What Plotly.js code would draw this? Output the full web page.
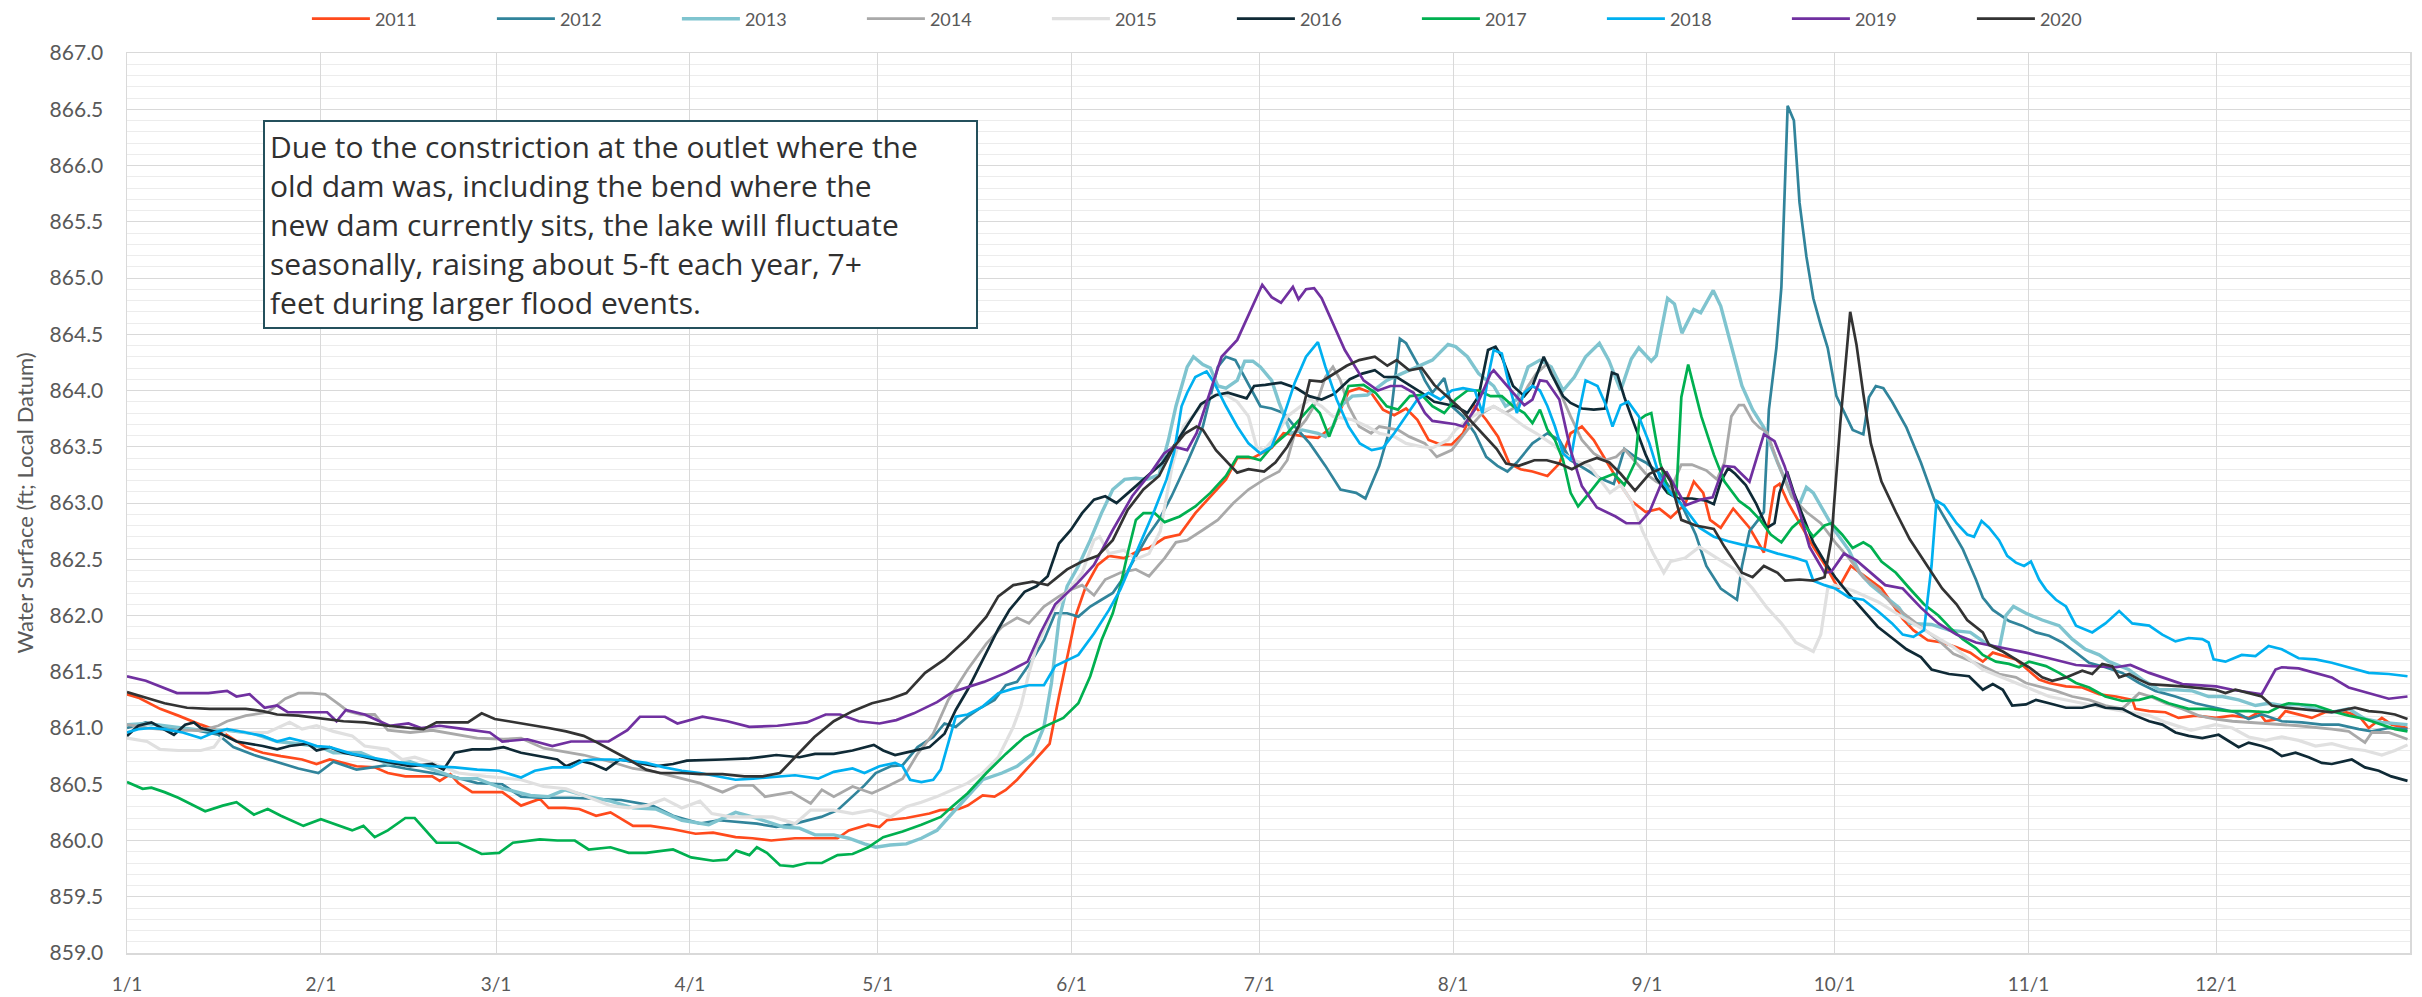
<!DOCTYPE html>
<html>
<head>
<meta charset="utf-8">
<script src="https://cdn.plot.ly/plotly-3.0.1.min.js"></script>
<style>
  html, body { margin: 0; padding: 0; background: #ffffff; }
  #chart { width: 2422px; height: 997px; }
</style>
</head>
<body>
<div id="chart"></div>
<script>
// Month tick positions (day of year) and labels
const monthDays = [0, 31, 59, 90, 120, 151, 181, 212, 243, 273, 304, 334, 365];
const monthLabels = ['1/1', '2/1', '3/1', '4/1', '5/1', '6/1', '7/1', '8/1', '9/1', '10/1', '11/1', '12/1', ''];

const years = ['2011', '2012', '2013', '2014', '2015', '2016', '2017', '2018', '2019', '2020'];

// [day of year, water surface (ft)]
const s2011 = [[0,861.30],[1.8,861.27],[5.3,861.17],[6.8,861.14],[8.2,861.11],[11.8,861.03],[15.3,860.96],[19,860.83],[21.7,860.78],[24.6,860.75],[28,860.72],[30.3,860.68],[32.4,860.72],[36.7,860.66],[39.6,860.65],[41.7,860.60],[44.5,860.57],[48.8,860.57],[50,860.53],[51.7,860.59],[53,860.51],[55.2,860.43],[58,860.43],[60,860.43],[63,860.31],[66,860.37],[67.4,860.29],[70,860.29],[72.3,860.28],[75,860.22],[77.3,860.25],[80.9,860.13],[83.7,860.13],[87.3,860.10],[90.9,860.06],[93.7,860.07],[97.3,860.03],[100,860.02],[103,860.0],[106.8,860.02],[109.9,860.02],[113.6,860.02],[115.4,860.09],[118.5,860.14],[120.3,860.12],[121.5,860.18],[124.6,860.20],[128.3,860.24],[130,860.27],[133,860.28],[134.4,860.31],[136.8,860.40],[138.7,860.39],[140.5,860.45],[142.3,860.54],[144.2,860.66],[146,860.77],[147.5,860.86],[149,861.28],[150.3,861.63],[151.8,862.02],[153.3,862.26],[155.2,862.45],[157,862.53],[159.4,862.51],[161.9,862.58],[163.4,862.60],[165.9,862.69],[168.3,862.72],[170.8,862.91],[173.8,863.09],[175.7,863.21],[177.5,863.40],[180,863.40],[183,863.49],[184.9,863.62],[188.5,863.59],[190.4,863.58],[192.8,863.68],[195.3,863.99],[197,864.02],[198.9,863.98],[200.8,863.83],[202.6,863.78],[204.5,863.84],[206.3,863.74],[208.1,863.56],[210,863.52],[211.8,863.52],[213.6,863.62],[215.5,863.86],[217.3,863.74],[219.2,863.59],[221,863.35],[222.8,863.30],[224.7,863.28],[227.1,863.24],[229,863.35],[230.8,863.62],[232.6,863.68],[234.5,863.56],[236.9,863.33],[238.8,863.16],[240.5,863.02],[242.8,862.92],[245,862.95],[246.8,862.87],[249.1,862.99],[250.5,863.19],[252,863.09],[253.1,862.85],[254.8,862.78],[256.8,862.95],[259.4,862.78],[261.7,862.56],[263.4,863.14],[264.2,863.17],[265.6,863.0],[267.4,862.82],[269.6,862.61],[271.9,862.41],[273.6,862.24],[275.6,862.44],[277,862.38],[278.8,862.31],[280.5,862.24],[282.2,862.10],[283.9,861.97],[285.6,861.87],[287.9,861.78],[290.2,861.76],[292.4,861.72],[294.7,861.67],[296.7,861.59],[298.3,861.67],[302,861.61],[305.7,861.43],[307.3,861.40],[310,861.37],[312.6,861.36],[315.3,861.30],[318,861.28],[320.6,861.25],[321.1,861.17],[323.3,861.15],[325.9,861.14],[328,861.09],[330.7,861.11],[333.9,861.09],[336.6,861.11],[339.2,861.09],[340.8,861.14],[341.9,861.06],[344,861.08],[345.1,861.15],[347.2,861.12],[349.3,861.09],[351.4,861.14],[354.1,861.15],[356.8,861.11],[358.4,861.0],[360.5,861.09],[362.1,861.03],[364.6,861.0]];

const s2012 = [[0,861.0],[3,861.05],[6,861.01],[11,860.98],[14.6,860.94],[17,860.83],[20.3,860.76],[24,860.70],[27.4,860.64],[30.6,860.60],[33,860.70],[36.7,860.63],[41.7,860.67],[44.5,860.64],[48.8,860.60],[52,860.57],[56,860.51],[60,860.50],[63,860.39],[66,860.38],[71,860.38],[79,860.36],[84,860.31],[87.3,860.22],[91.6,860.15],[94.6,860.18],[100.7,860.15],[103.8,860.12],[106.8,860.15],[111,860.21],[113.6,860.27],[116,860.39],[117.9,860.49],[119.7,860.60],[122.1,860.66],[124,860.67],[126.4,860.83],[128.9,860.92],[130.7,861.04],[132.5,861.01],[134.4,861.10],[136.2,861.17],[138.7,861.25],[140.5,861.38],[142.3,861.41],[144.8,861.61],[146.6,861.78],[148.4,862.02],[150.3,862.02],[152.1,861.99],[154,862.08],[155.8,862.14],[157.6,862.20],[159.5,862.35],[161.3,862.53],[163.1,862.70],[165,862.85],[167,863.06],[169.5,863.36],[172,863.68],[174.4,864.21],[175.7,864.30],[177.2,864.27],[178.7,864.12],[180,863.98],[181.2,863.86],[183,863.84],[184.9,863.80],[186.7,863.68],[189.1,863.53],[191.6,863.33],[194,863.12],[196.5,863.09],[198,863.04],[200.2,863.33],[201.7,863.62],[202.6,864.04],[203.5,864.46],[204.5,864.42],[206.3,864.24],[207.5,864.09],[208.7,863.98],[210.6,864.11],[211.8,863.86],[213.6,863.77],[215.5,863.62],[217.3,863.41],[219.1,863.33],[220.7,863.28],[222.2,863.36],[224.7,863.53],[227.1,863.62],[229,863.56],[230.8,863.38],[233.2,863.30],[235.5,863.22],[237.7,863.17],[239.4,863.48],[241.1,863.41],[242.8,863.36],[245.1,863.26],[248.5,862.99],[250.8,862.72],[252.5,862.44],[254.8,862.24],[257.4,862.14],[258.2,862.44],[259.4,862.75],[260.8,862.85],[261.7,862.92],[262.5,863.83],[263.7,864.38],[264.5,864.92],[265.1,865.94],[265.5,866.53],[266.5,866.40],[267.4,865.67],[268.5,865.19],[269.6,864.82],[270.8,864.58],[271.9,864.38],[273.3,863.95],[274.8,863.77],[275.9,863.65],[277.6,863.61],[278.5,863.94],[279.6,864.04],[280.8,864.02],[282.2,863.90],[284.5,863.67],[286.8,863.36],[289,863.02],[291.3,862.80],[293.5,862.59],[295.6,862.32],[296.7,862.16],[298.3,862.05],[300.9,861.95],[303,861.91],[305.2,861.85],[307.3,861.82],[309.4,861.76],[311.6,861.67],[313.7,861.58],[316.3,861.54],[319,861.49],[321.7,861.40],[324.3,861.33],[327.5,861.28],[330.7,861.22],[333.9,861.18],[337.1,861.14],[339.2,861.08],[341.3,861.12],[344.5,861.06],[347.7,861.05],[350.9,861.03],[353.6,861.03],[356.8,860.99],[358.9,860.97],[361.6,861.0],[364.6,860.99]];

const s2013 = [[0,861.03],[3.2,861.04],[7.5,861.01],[11.8,860.98],[16,860.98],[20.3,860.95],[24,860.88],[27.4,860.86],[31,860.83],[33,860.78],[37.4,860.78],[41.7,860.68],[45.3,860.70],[48.8,860.63],[53,860.55],[56,860.55],[60.2,860.46],[64.5,860.40],[67.4,860.39],[70,860.45],[73.8,860.39],[77.3,860.35],[80.9,860.29],[84.5,860.28],[88.7,860.18],[93,860.14],[97.3,860.25],[100,860.21],[105,860.12],[107.5,860.11],[110,860.05],[113,860.05],[115.4,860.02],[117.9,859.97],[119.7,859.94],[122,859.96],[124.6,859.97],[127,860.02],[129.5,860.09],[131.9,860.24],[134.4,860.39],[136.8,860.54],[139.9,860.60],[142.3,860.66],[144.8,860.77],[146.6,861.01],[147.8,861.40],[149,861.96],[150.3,862.26],[152.1,862.44],[154,862.67],[155.8,862.91],[157.6,863.12],[159.5,863.21],[161.3,863.22],[163.1,863.21],[165,863.25],[166.5,863.56],[167.7,863.86],[169.5,864.21],[170.5,864.30],[172,864.23],[173.2,864.20],[174.4,864.04],[175.7,864.02],[177.5,864.09],[178.7,864.26],[180,864.26],[181.2,864.21],[183,864.09],[184.2,863.89],[186.1,863.62],[187.9,863.65],[190.4,863.62],[191.6,863.59],[192.8,863.68],[194,863.86],[195.9,863.95],[198.3,863.96],[201.4,864.09],[203.8,864.15],[206.3,864.21],[208.7,864.27],[211.2,864.41],[212.4,864.39],[214.3,864.30],[216.1,864.15],[218.5,864.04],[220.4,863.86],[222.2,863.92],[224,864.21],[225.9,864.27],[227.7,864.21],[229.6,864.0],[231.4,864.12],[233.2,864.30],[235.4,864.42],[236.9,864.27],[238.8,864.0],[240.5,864.28],[241.7,864.38],[243.7,864.26],[244.5,864.31],[246.3,864.82],[247.4,864.77],[248.6,864.51],[250.5,864.72],[251.6,864.69],[253.6,864.89],[254.8,864.75],[256.5,864.38],[258.2,864.04],[259.9,863.83],[261.7,863.67],[263.9,863.36],[266.2,863.06],[267.4,862.99],[268.5,863.14],[269.6,863.09],[271.4,862.92],[273.1,862.75],[275.3,862.58],[277,862.38],[278.8,862.27],[281,862.17],[283.3,862.07],[285,861.93],[288.5,861.92],[291.3,861.87],[294.7,861.85],[297,861.76],[299.3,861.70],[300.4,862.0],[301.6,862.08],[303.6,862.02],[306.2,861.96],[308.9,861.91],[311,861.79],[313.1,861.70],[315.3,861.65],[316.9,861.59],[320,861.52],[322.2,861.43],[324.9,861.34],[327.5,861.34],[330.2,861.33],[332.8,861.28],[335,861.28],[337.6,861.25],[340.3,861.20],[342.4,861.22],[344.5,861.20],[347.2,861.21],[349.9,861.17],[352.5,861.14],[355.2,861.17],[357.8,861.08],[360.5,861.05],[364.6,861.03]];

const s2014 = [[0,861.03],[3.2,861.0],[7.5,860.98],[11.8,860.98],[14.6,861.02],[16,861.06],[19,861.11],[22.5,861.14],[25.3,861.26],[27.4,861.31],[29.6,861.31],[31.7,861.30],[33.9,861.21],[35.3,861.15],[37.4,861.12],[39.6,861.12],[41.7,860.98],[45.3,860.96],[48.8,860.98],[56,860.91],[60.2,860.90],[63,860.91],[66.6,860.82],[70.2,860.79],[73,860.76],[77.3,860.70],[80.9,860.64],[84.5,860.61],[88.7,860.55],[91.6,860.51],[95.2,860.43],[97.7,860.49],[100.1,860.49],[102,860.39],[106.2,860.43],[109.3,860.33],[111.1,860.45],[113,860.39],[116,860.48],[119.1,860.42],[121.5,860.48],[124,860.55],[126.4,860.77],[128.9,860.95],[131.3,861.25],[134.4,861.52],[137.4,861.75],[139.9,861.90],[142.3,861.98],[144.2,861.93],[146.6,862.08],[149,862.17],[150.9,862.23],[152.7,862.27],[154.6,862.18],[156.4,862.32],[158.8,862.38],[161.3,862.41],[163.4,862.35],[165.9,862.51],[167.7,862.65],[169.5,862.67],[172,862.76],[174.4,862.85],[176.9,863.0],[179.3,863.12],[181.8,863.21],[184.2,863.28],[185.5,863.38],[186.7,863.62],[188.5,863.74],[190.4,863.92],[191.6,864.12],[192.8,864.21],[194,864.09],[195.3,863.86],[197,863.68],[198.9,863.62],[200.2,863.68],[203.2,863.65],[205,863.59],[207.5,863.53],[209.4,863.41],[211.8,863.47],[214.3,863.65],[216.7,863.80],[218.5,863.86],[220.4,863.80],[222.2,863.86],[224,864.04],[225.3,864.15],[227.1,864.24],[229,864.0],[230.8,863.77],[232.6,863.56],[234.5,863.44],[236.3,863.38],[238.1,863.41],[239.4,863.48],[242.8,863.26],[244.5,863.19],[246.8,863.12],[248.5,863.34],[250.2,863.34],[252.5,863.29],[254.2,863.21],[255.4,863.36],[256.5,863.77],[257.7,863.87],[258.5,863.87],[259.9,863.73],[261,863.67],[262.2,863.63],[263.9,863.36],[266.2,863.05],[268.5,862.92],[270.8,862.82],[273.1,862.65],[275.3,862.51],[277.6,862.34],[279.9,862.24],[282.2,862.10],[284.5,862.0],[286.8,861.90],[289.6,861.78],[292,861.66],[296.7,861.55],[299.3,861.48],[302,861.45],[303.6,861.40],[305.7,861.37],[308.4,861.33],[311,861.28],[313.7,861.25],[316.3,861.20],[319,861.17],[321.7,861.31],[323.5,861.28],[325.9,861.22],[328.6,861.17],[331.2,861.11],[333.9,861.08],[336.6,861.06],[339.2,861.05],[344.5,861.03],[347.2,861.02],[352.5,860.99],[355.2,860.97],[357.8,860.87],[358.9,860.96],[361.6,860.96],[364.6,860.90]];

const s2015 = [[0,860.91],[3.2,860.88],[5.3,860.81],[8.2,860.80],[11.8,860.80],[13.9,860.83],[16,860.99],[19,860.96],[22.5,860.96],[26,861.05],[28,860.99],[30.3,861.02],[33,860.97],[36,860.93],[38,860.84],[41.7,860.81],[44,860.72],[46,860.74],[48.8,860.69],[53,860.60],[57.4,860.57],[63,860.54],[66.6,860.48],[70.2,860.46],[74.5,860.37],[77.3,860.31],[80.2,860.29],[83,860.31],[85.9,860.37],[88.7,860.29],[91.6,860.35],[93.5,860.24],[96.5,860.21],[103.2,860.21],[106.8,860.15],[109.3,860.27],[113,860.27],[116,860.24],[119,860.27],[122.1,860.21],[124.6,860.30],[127,860.34],[129.5,860.39],[131.9,860.45],[134.4,860.51],[136.8,860.60],[139.3,860.74],[141.7,861.01],[142.9,861.19],[144.2,861.49],[145.4,861.72],[147.8,862.02],[150.3,862.20],[152.7,862.38],[154.6,862.67],[155.5,862.70],[157,862.55],[159.4,862.58],[161.3,862.50],[163.4,862.55],[165.2,862.75],[167.1,863.33],[168.9,863.68],[170.8,863.80],[173.2,863.95],[175.7,863.96],[177.5,863.90],[179.3,863.77],[180.6,863.50],[181.8,863.47],[183.6,863.59],[185.5,863.77],[189.1,863.92],[191,863.86],[192.8,863.77],[195.9,863.74],[198.3,863.68],[200.2,863.62],[202.6,863.59],[204.5,863.53],[207,863.50],[208.7,863.49],[211.2,863.56],[212.4,863.65],[214.3,863.74],[216.1,863.80],[218.5,863.86],[221,863.78],[223.4,863.68],[225.3,863.62],[227.7,863.53],[229.6,863.44],[231.4,863.38],[233.8,863.33],[235.4,863.21],[237.1,863.09],[238.8,863.16],[240.5,863.02],[242.3,862.75],[244,862.55],[245.7,862.38],[246.8,862.48],[249.1,862.51],[251.4,862.61],[254.2,862.51],[257.1,862.41],[259.9,862.24],[262.2,862.07],[264.5,861.93],[266.8,861.76],[269.6,861.68],[270.8,861.83],[271.9,862.24],[273,862.27],[276,862.22],[280,862.12],[284,861.98],[288,861.85],[292,861.72],[296.7,861.52],[302,861.40],[307.3,861.28],[312.6,861.22],[318,861.16],[323.3,861.11],[326,861.05],[330,860.98],[333.9,861.03],[336.6,861.0],[339.2,860.92],[341.9,860.89],[344.5,860.92],[347.2,860.89],[349.9,860.84],[352.5,860.86],[355.2,860.82],[357.8,860.80],[360.5,860.76],[362.6,860.80],[364.6,860.85]];

const s2016 = [[0,860.93],[1.8,861.02],[3.9,861.05],[6,860.99],[7.5,860.94],[9.3,861.03],[10.7,861.05],[11.8,861.0],[14.6,860.96],[17.5,860.88],[19.6,860.86],[21.7,860.84],[24,860.81],[26,860.84],[28.9,860.86],[30.3,860.80],[32.4,860.83],[34.6,860.78],[37.4,860.75],[39.6,860.72],[42.4,860.69],[45.3,860.66],[48.8,860.68],[50.6,860.63],[52.4,860.78],[55.2,860.81],[58,860.81],[60.2,860.83],[63,860.78],[66.6,860.74],[68.8,860.72],[70.2,860.66],[72.3,860.71],[74.5,860.68],[76.6,860.63],[78.8,860.72],[84.5,860.66],[87.3,860.68],[89.5,860.71],[95.2,860.72],[99.5,860.73],[103.8,860.76],[107.5,860.74],[110,860.77],[113,860.77],[116,860.80],[117.9,860.83],[119.4,860.85],[120.9,860.80],[122.8,860.76],[125.2,860.79],[128.3,860.83],[130.7,860.95],[132.5,861.16],[134.4,861.34],[136.8,861.61],[139.3,861.88],[141.1,862.05],[143.5,862.21],[145.4,862.26],[147.2,862.35],[149,862.64],[150.9,862.76],[152.7,862.91],[154.6,863.03],[156.4,863.06],[158.2,863.0],[161.3,863.15],[163.7,863.27],[165.6,863.36],[168,863.56],[169.8,863.71],[171.7,863.88],[174.1,863.96],[176,863.98],[179,863.93],[180.2,864.04],[182,864.05],[184.5,864.07],[187,864.02],[189,863.95],[191,863.92],[193,863.97],[195.5,864.10],[197.5,864.15],[199.5,864.18],[201,864.12],[203,864.12],[205,864.05],[207,863.98],[209,863.90],[211,863.88],[212.4,863.86],[214.3,863.80],[216.1,863.95],[217.6,864.36],[218.8,864.39],[219.8,864.30],[221.6,864.04],[223.4,863.95],[224.7,864.04],[226.5,864.30],[227.7,864.15],[229.6,863.95],[230.8,863.89],[232.6,863.84],[234.5,863.83],[236.3,863.84],[237.4,864.16],[238.3,864.14],[239.4,863.94],[240.5,863.77],[241.7,863.60],[242.8,863.43],[244.5,863.22],[246.3,863.09],[248,863.04],[250.2,863.04],[252.5,863.02],[253.7,862.99],[254.8,863.19],[256,863.31],[257.1,863.26],[258.8,863.16],[260.5,862.99],[262.2,862.78],[263.4,862.82],[264.2,863.09],[265.4,863.28],[266.5,863.09],[267.9,862.89],[269.6,862.65],[271.4,862.48],[273.1,862.34],[275.3,862.19],[277.6,862.04],[279.9,861.90],[282.2,861.80],[284.5,861.70],[286.8,861.63],[288.5,861.52],[291.3,861.48],[294.5,861.46],[296.7,861.34],[298.3,861.39],[299.9,861.34],[301.4,861.20],[303.6,861.21],[305.2,861.25],[307.3,861.22],[310,861.18],[312.6,861.18],[314.7,861.21],[316.3,861.18],[319,861.17],[321.1,861.11],[323.3,861.06],[325.4,861.03],[327.5,860.96],[329.6,860.93],[331.8,860.91],[334.4,860.94],[335.5,860.90],[337.6,860.83],[339.2,860.87],[341.3,860.84],[342.9,860.81],[344.5,860.75],[346.7,860.78],[348.8,860.74],[350.9,860.69],[352.5,860.68],[355.7,860.72],[357.8,860.65],[360,860.62],[362,860.57],[364.6,860.53]];

const s2017 = [[0,860.52],[2.5,860.46],[3.9,860.47],[6,860.43],[8.2,860.38],[10.3,860.32],[12.5,860.26],[15.3,860.31],[17.5,860.34],[20.3,860.23],[22.5,860.28],[24.6,860.22],[28.2,860.13],[31,860.19],[33.9,860.13],[36,860.09],[37.8,860.13],[39.6,860.03],[41.7,860.09],[44.5,860.20],[46,860.20],[49.5,859.98],[53,859.98],[56.7,859.88],[59.5,859.89],[61.7,859.98],[66,860.01],[68.8,860.0],[71.6,860.0],[73.8,859.92],[77.3,859.94],[80.2,859.89],[83,859.89],[87.3,859.92],[90.2,859.85],[93.7,859.82],[95.9,859.83],[97.4,859.91],[99.5,859.87],[100.7,859.94],[102.3,859.89],[104.4,859.78],[106.5,859.77],[108.7,859.80],[111.1,859.80],[113.6,859.87],[116,859.88],[118.5,859.94],[120.9,860.03],[124,860.08],[127,860.14],[130.1,860.21],[131.9,860.30],[134.4,860.42],[137.4,860.60],[140.5,860.77],[143.5,860.92],[146.6,861.01],[149.7,861.09],[152.1,861.22],[154,861.46],[155.8,861.78],[157.6,862.02],[158.8,862.26],[160.1,862.58],[161.3,862.85],[162.5,862.91],[164.3,862.91],[165.9,862.83],[168.3,862.88],[170.8,862.97],[173.2,863.09],[175.7,863.24],[177.5,863.41],[179.3,863.41],[181.2,863.38],[183,863.50],[185.5,863.62],[187.9,863.77],[189.5,863.87],[190.7,863.80],[192.2,863.59],[193.4,863.77],[195.3,864.04],[197.7,864.05],[199.6,863.98],[201.4,863.86],[203.2,863.83],[205.1,863.95],[207,863.96],[208.7,863.86],[210.6,863.80],[212.4,863.92],[214.3,864.0],[216.1,864.0],[218,863.95],[219.8,863.95],[221.6,863.86],[223.4,863.80],[224.7,863.71],[225.9,863.83],[227.1,863.65],[228.3,863.56],[229.6,863.38],[230.8,863.09],[232,862.97],[233.8,863.09],[235.5,863.21],[237.7,863.26],[239.4,863.16],[241.1,863.36],[241.8,863.74],[242.8,863.78],[243.7,863.80],[245.1,863.36],[246.5,863.09],[247.7,863.07],[248.5,863.94],[249.6,864.23],[250.5,864.04],[251.7,863.77],[253.7,863.43],[255.4,863.19],[257.7,863.02],[259.4,862.95],[261.1,862.85],[262.8,862.72],[264.5,862.65],[266.2,862.78],[267.6,862.85],[269.6,862.70],[271.4,862.80],[272.5,862.82],[274.2,862.72],[275.9,862.60],[277.6,862.65],[278.8,862.61],[280.5,862.48],[282.8,862.38],[285,862.24],[287.3,862.10],[289.6,862.0],[291.5,861.89],[293.5,861.79],[295.6,861.71],[296.7,861.65],[298.8,861.59],[300.9,861.57],[302.5,861.54],[304.1,861.59],[306.8,861.55],[308.9,861.49],[311.6,861.40],[313.7,861.36],[316.3,861.28],[319,861.24],[321.7,861.25],[323.8,861.28],[326.4,861.22],[329.6,861.17],[332.8,861.17],[336,861.15],[339.2,861.15],[342.4,861.14],[344.5,861.20],[345.6,861.22],[347.7,861.21],[349.9,861.20],[352.5,861.15],[355.2,861.11],[357.8,861.08],[360.5,861.03],[362.6,860.99],[364.6,860.97]];

const s2018 = [[0,860.96],[1.8,860.99],[3.9,861.0],[6,860.99],[8.9,860.96],[11.8,860.91],[13.9,860.96],[16,860.99],[19,860.96],[21.7,860.93],[24,860.88],[26,860.91],[28.2,860.88],[30.3,860.84],[32.4,860.83],[36,860.77],[38.8,860.74],[41.7,860.71],[45.3,860.68],[48.8,860.66],[52.4,860.65],[56,860.63],[59.5,860.62],[63,860.56],[65.2,860.62],[68,860.65],[70.9,860.65],[73,860.71],[74.5,860.72],[77.3,860.72],[80.2,860.71],[83,860.69],[85.9,860.65],[88.7,860.62],[91.6,860.60],[94.4,860.57],[97.3,860.54],[100.1,860.55],[103.8,860.57],[106.8,860.58],[110.5,860.55],[113,860.61],[116,860.64],[117.9,860.60],[120.3,860.66],[122.8,860.69],[124,860.66],[125.2,860.54],[127,860.52],[128.9,860.54],[130.1,860.63],[131.3,860.86],[132.5,861.10],[134.4,861.12],[136.8,861.19],[139.3,861.31],[141.7,861.35],[144.2,861.38],[146.6,861.38],[148.4,861.55],[152.1,861.65],[154.6,861.84],[157,862.05],[158.8,862.23],[160.7,862.47],[162.5,862.70],[164.3,862.94],[166.2,863.21],[167.4,863.45],[168.6,863.86],[169.5,863.98],[170.8,864.12],[172.6,864.17],[173.8,864.07],[175.7,863.86],[177.5,863.68],[179.3,863.53],[181.2,863.44],[183,863.50],[184.9,863.77],[186.7,864.07],[188.5,864.30],[190.4,864.43],[191.6,864.21],[193.4,863.92],[195.3,863.68],[197.1,863.53],[199,863.47],[200.8,863.49],[202.6,863.62],[204.5,863.77],[206.3,863.92],[208.1,863.98],[210,863.92],[211.8,864.0],[213.6,864.02],[215.5,864.0],[216.7,863.80],[217.6,864.12],[218.5,864.36],[219.8,864.33],[221,864.04],[222.2,863.80],[223.4,863.98],[224.7,864.04],[225.9,864.0],[227.1,863.86],[228.3,863.68],[229.6,863.44],[230.8,863.38],[232,863.77],[233.2,864.09],[235.1,864.04],[236.3,863.89],[237.5,863.68],[238.8,863.87],[240,863.90],[241.7,863.77],[243.4,863.53],[245.1,863.22],[246.8,863.09],[249.1,862.95],[251.4,862.78],[253.7,862.70],[256,862.66],[258.2,862.63],[261.1,862.60],[263.9,862.55],[266.8,862.51],[268.5,862.48],[269.6,862.31],[271.4,862.27],[273.1,862.24],[275.3,862.16],[277.6,862.14],[279.9,862.04],[282.2,861.93],[283.9,861.83],[285.6,861.81],[287.3,861.87],[288.5,862.44],[289.3,863.02],[290.5,862.98],[292.5,862.82],[294.2,862.72],[295.3,862.70],[296.5,862.84],[297.7,862.78],[299.3,862.67],[300.6,862.53],[302,862.47],[303.3,862.44],[304.4,862.48],[305.7,862.32],[306.8,862.23],[308.4,862.14],[310,862.08],[311.6,861.91],[314.2,861.85],[316.3,861.93],[318.5,862.04],[320.6,861.93],[323.3,861.91],[325.4,861.83],[327.5,861.77],[329.6,861.80],[331.8,861.79],[332.8,861.76],[333.6,861.61],[335.5,861.59],[338.1,861.65],[340.3,861.64],[342.4,861.73],[344.5,861.70],[347.2,861.62],[349.9,861.61],[352.5,861.58],[355.2,861.54],[358.4,861.49],[361.6,861.48],[364.6,861.46]];

const s2019 = [[0,861.46],[3,861.42],[8,861.31],[13,861.31],[16,861.33],[17.5,861.28],[19.6,861.30],[22,861.18],[24,861.20],[25.7,861.14],[32,861.14],[33.5,861.06],[35,861.16],[38,861.12],[42,861.02],[45,861.04],[47,861.0],[50,861.02],[54,860.99],[58,860.96],[60,860.88],[64,860.90],[68,860.84],[71,860.88],[74,860.88],[77,860.88],[80,860.98],[82,861.10],[86,861.10],[88,861.04],[92,861.10],[96,861.06],[99.5,861.01],[104,861.02],[108.7,861.05],[111.7,861.12],[114,861.12],[117,861.06],[120.3,861.04],[123,861.07],[125.8,861.13],[129.5,861.23],[132,861.32],[137,861.41],[140.5,861.49],[144,861.59],[146,861.84],[148.4,862.10],[152,862.29],[154.6,862.45],[157.6,862.76],[160.7,863.06],[163.7,863.27],[165.8,863.44],[167.4,863.50],[169.5,863.47],[171,863.62],[175,864.30],[177.5,864.45],[180,864.75],[181.5,864.94],[183,864.83],[184.5,864.78],[186.4,864.92],[187.3,864.81],[188.5,864.90],[189.8,864.91],[191,864.82],[194.7,864.36],[197.7,864.09],[200,864.0],[202,864.04],[203.8,864.04],[205.7,863.98],[207.5,863.80],[208.7,863.73],[212.4,863.70],[213.6,863.68],[215.5,863.83],[218,864.15],[218.5,864.18],[221.6,863.98],[223.4,863.87],[224.7,863.92],[225.9,864.09],[227,864.08],[229,863.92],[230.8,863.47],[232.6,863.15],[235,862.96],[238,862.88],[239.7,862.82],[241.8,862.82],[243.4,862.92],[246.1,863.28],[249.2,862.98],[251.6,863.03],[253.5,863.05],[255.3,863.33],[257,863.32],[259.4,863.19],[261.7,863.61],[263.4,863.55],[265,863.33],[267.4,862.92],[269,862.61],[271.4,862.38],[272.5,862.39],[274.5,862.55],[276.5,862.49],[278.8,862.38],[281.1,862.27],[283.9,862.24],[286.8,862.07],[289.6,861.93],[292.5,861.83],[295.6,861.76],[298.2,861.73],[303.6,861.67],[307.3,861.62],[311.6,861.56],[314.2,861.55],[318,861.54],[320.3,861.56],[323.3,861.49],[328.6,861.39],[334,861.37],[336.6,861.34],[341.3,861.30],[343.5,861.52],[344.5,861.54],[347.2,861.53],[349.9,861.49],[352.5,861.45],[355.2,861.36],[358.4,861.31],[361.6,861.26],[364.6,861.28]];

const s2020 = [[0,861.32],[3.2,861.27],[6,861.22],[9.6,861.18],[13.2,861.17],[16,861.17],[19,861.17],[21.7,861.15],[24,861.12],[27.4,861.11],[30.3,861.09],[34.6,861.06],[38,861.05],[41.7,861.02],[45.3,861.0],[47.4,860.99],[49.5,861.05],[54.5,861.05],[56.7,861.13],[58.8,861.08],[61,861.06],[64.5,861.03],[67.4,861.0],[70.2,860.97],[73,860.93],[75.2,860.87],[77.3,860.81],[80.2,860.72],[83,860.63],[85.2,860.60],[88.7,860.60],[91.6,860.59],[95.2,860.59],[98.7,860.57],[101.6,860.57],[104.4,860.60],[106.8,860.74],[109.9,860.92],[113,861.06],[116,861.15],[119.1,861.22],[122.1,861.26],[124.6,861.31],[127.6,861.49],[130.7,861.61],[134.4,861.80],[137.4,861.99],[139.3,862.17],[141.7,862.27],[144.8,862.30],[147.2,862.27],[150.3,862.41],[152.7,862.48],[155.2,862.53],[157.6,862.67],[160,862.94],[162.5,863.12],[165,863.24],[167.4,863.50],[169.2,863.62],[171,863.68],[172,863.65],[174.1,863.47],[176,863.36],[177.5,863.27],[179.3,863.30],[181.8,863.28],[183.6,863.36],[185.5,863.50],[187.3,863.68],[189.1,864.09],[191,864.08],[193,864.15],[195,864.22],[197,864.27],[199.5,864.30],[201.5,864.22],[203,864.27],[205,864.18],[207,864.20],[209,864.05],[211,863.95],[213,863.85],[215,863.72],[217,863.60],[219,863.48],[220.5,863.35],[222.5,863.33],[225,863.38],[227,863.38],[229,863.35],[231,863.30],[233,863.36],[235,863.40],[237,863.36],[238.8,863.26],[241.1,863.11],[243.4,863.26],[245.4,863.31],[246.8,863.19],[248.5,862.85],[250.8,862.80],[253.7,862.77],[255.4,862.61],[258.2,862.38],[259.9,862.34],[261.7,862.44],[263.9,862.38],[265.1,862.31],[267.4,862.32],[269.6,862.31],[271.4,862.34],[272.5,862.68],[273.9,863.70],[275.5,864.70],[276.5,864.41],[277.6,863.97],[278.8,863.53],[280.5,863.19],[282.8,862.92],[285,862.68],[287.3,862.48],[290.2,862.24],[292.5,862.10],[294.2,861.96],[296.7,861.85],[297.7,861.74],[299.9,861.68],[302,861.61],[304.1,861.54],[306.2,861.45],[307.8,861.42],[310,861.45],[312.6,861.51],[314.2,861.48],[315.8,861.57],[317.4,861.55],[318.5,861.45],[320.1,861.48],[321.7,861.43],[323.3,861.39],[328.6,861.37],[333.9,861.34],[335.5,861.31],[337.1,861.34],[339.2,861.31],[341.3,861.28],[342.9,861.20],[345.1,861.18],[347.2,861.17],[352.5,861.14],[356.2,861.18],[358.4,861.15],[360.5,861.14],[362.6,861.12],[364.6,861.08]];

const seriesData = [s2011, s2012, s2013, s2014, s2015, s2016, s2017, s2018, s2019, s2020];
const colors = ['#FF4A1C', '#31849B', '#7FC4CF', '#A9A9A9', '#E0E0E0', '#0F2A36', '#00B050', '#00B0F0', '#7030A0', '#333333'];
const widths = [2.7, 2.7, 3.4, 2.8, 3.2, 2.7, 2.7, 2.7, 2.7, 2.7];

const noteText = 'Due to the constriction at the outlet where the<br>' +
  'old dam was, including the bend where the<br>' +
  'new dam currently sits, the lake will fluctuate<br>' +
  'seasonally, raising about 5-ft each year, 7+<br>' +
  'feet during larger flood events.';

const FONT = 'Lato, "Open Sans", "Noto Sans", sans-serif';
const NOTE_FONT = '"Open Sans", Lato, "Noto Sans", sans-serif';

const traces = years.map((yr, i) => ({
  type: 'scatter',
  mode: 'lines',
  name: yr,
  x: seriesData[i].map(p => p[0]),
  y: seriesData[i].map(p => p[1]),
  line: { color: colors[i], width: widths[i] },
  hoverinfo: 'skip'
}));

const layout = {
  width: 2422,
  height: 997,
  margin: { l: 127, r: 12, t: 53, b: 44, pad: 0, autoexpand: false },
  paper_bgcolor: '#ffffff',
  plot_bgcolor: '#ffffff',
  font: { family: FONT, color: '#595959', size: 19 },
  showlegend: true,
  legend: {
    orientation: 'h',
    x: 0.0788, xanchor: 'left',
    y: 1.0378, yanchor: 'middle',
    font: { family: FONT, size: 18, color: '#595959' },
    itemwidth: 58,
    entrywidth: 112,
    entrywidthmode: 'pixels',
    traceorder: 'normal',
    bgcolor: 'rgba(0,0,0,0)'
  },
  xaxis: {
    range: [0, 365],
    tickmode: 'array',
    tickvals: monthDays,
    ticktext: monthLabels,
    showgrid: true,
    gridcolor: '#d9d9d9',
    gridwidth: 1,
    zeroline: false,
    showline: true,
    linecolor: '#d9d9d9',
    linewidth: 1.5,
    mirror: true,
    ticks: '',
    ticklabelstandoff: 14,
    tickfont: { family: FONT, size: 19, color: '#595959' },
    fixedrange: true
  },
  yaxis: {
    range: [859, 867],
    tickmode: 'linear',
    tick0: 859,
    dtick: 0.5,
    tickformat: '.1f',
    showgrid: true,
    gridcolor: '#d9d9d9',
    gridwidth: 1,
    minor: { dtick: 0.1, tick0: 859, showgrid: true, gridcolor: '#ececec', gridwidth: 1, ticks: '' },
    zeroline: false,
    showline: true,
    linecolor: '#d9d9d9',
    linewidth: 1.5,
    mirror: true,
    ticks: '',
    ticklabelstandoff: 18,
    tickfont: { family: FONT, size: 21, color: '#595959' },
    title: { text: 'Water Surface (ft; Local Datum)', font: { family: FONT, size: 22, color: '#595959' }, standoff: 10 },
    fixedrange: true
  },
  annotations: [{
    xref: 'paper', yref: 'paper',
    x: 0.0596, y: 0.9256,
    xanchor: 'left', yanchor: 'top',
    text: noteText,
    showarrow: false,
    align: 'left',
    valign: 'middle',
    width: 701,
    height: 195,
    bgcolor: '#ffffff',
    bordercolor: '#24505C',
    borderwidth: 2,
    borderpad: 5,
    font: { family: NOTE_FONT, size: 30, color: '#303030' }
  }],
  hovermode: false
};

Plotly.newPlot('chart', traces, layout, { staticPlot: true, displayModeBar: false });
</script>
</body>
</html>
